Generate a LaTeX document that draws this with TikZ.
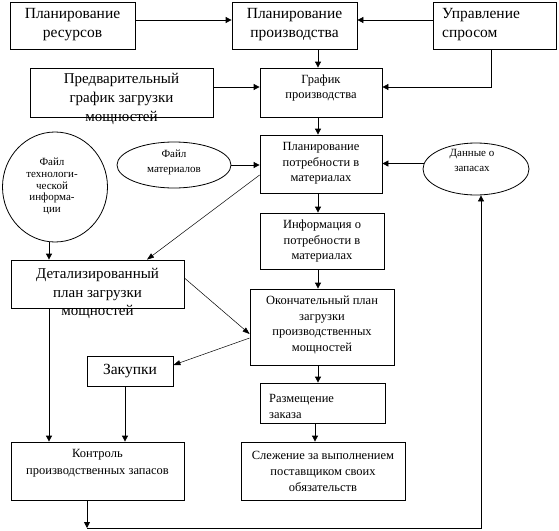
\documentclass[tikz,border=0pt]{standalone}
\usepackage{fontspec}
\setmainfont{Liberation Serif}
\usetikzlibrary{arrows.meta,shapes.geometric}
\tikzset{
  box/.style={draw,line width=0.8pt,inner sep=0pt},
  oval/.style={draw,ellipse,line width=0.8pt,inner sep=0pt},
  big/.style={inner sep=0pt,align=center,font=\fontsize{15.5}{19}\selectfont},
  big2/.style={inner sep=0pt,align=center,font=\fontsize{15}{18.7}\selectfont},
  mid/.style={inner sep=0pt,align=center,font=\fontsize{12.5}{15.5}\selectfont},
  sml/.style={inner sep=0pt,align=center,font=\fontsize{11}{15}\selectfont},
  tiny/.style={inner sep=0pt,align=center,font=\fontsize{11}{11.7}\selectfont},
  arr/.style={line width=0.8pt,-{Triangle[length=6pt,width=6pt]}},
  darr/.style={line width=0.5pt,-{Triangle[length=7pt,width=5pt]}},
}
\newcommand{\mybox}[5]{% name, left, top, right, bottom
  \node[box,minimum width={(#4)-(#2)},minimum height={(#5)-(#3)}] (#1) at ({((#2)+(#4))/2},{((#3)+(#5))/2}) {};}
\begin{document}
\begin{tikzpicture}[x=1pt,y=-1pt]
\useasboundingbox (0,0) rectangle (559,530);
% helper columns and rows
\coordinate (xM) at (318,0);
\coordinate (xS) at (315,0);
\coordinate (xA) at (49,0);
\coordinate (xB) at (87,0);
\coordinate (xZ) at (125,0);
\coordinate (xD) at (147,0);
\coordinate (xR) at (491,0);
\coordinate (xC) at (481,0);
\coordinate (yBot) at (0,528);
% boxes
\mybox{b1}{10}{2}{135}{49}
\mybox{b2}{232}{2}{357}{49}
\mybox{b3}{433}{2}{556}{49}
\mybox{b5}{30}{68}{213}{117}
\mybox{b4}{260}{68}{382}{117}
\mybox{b6}{260}{135}{382}{193}
\mybox{b8}{260}{213}{384}{269}
\mybox{b7}{11}{260}{184}{308}
\mybox{b9}{250}{289}{394}{365}
\mybox{zk}{87}{356}{173}{386}
\mybox{b10}{260}{383}{385}{423}
\mybox{kt}{11}{442}{184}{500}
\mybox{b11}{241}{442}{405}{500}
\node[oval,minimum width=114pt,minimum height=46pt] (fm) at (174,165) {};
\node[oval,minimum width=105pt,minimum height=110pt] (ft) at (55,187) {};
\node[oval,minimum width=106pt,minimum height=52pt] (dz) at (476,169) {};
% texts
\node[big] (t1) at (72.5,24.5) {Планирование\\ресурсов};
\node[big] (t2) at (294.5,24.5) {Планирование\\производства};
\node[big,align=left,anchor=west] (t3) at (442,24.5) {Управление\\спросом};
\node[big2] (t5) at (121.5,99) {Предварительный\\график загрузки\\мощностей};
\node[mid] (t4) at (321,88) {График\\производства};
\node[sml] (tfm) at (174,162.5) {Файл\\материалов};
\node[tiny] (tft) at (52,186.5) {Файл\\технологи-\\ческой\\информа-\\ции};
\node[mid] (t6) at (321,163.5) {Планирование\\потребности в\\материалах};
\node[sml] (tdz) at (472,160.5) {Данные о\\запасах};
\node[mid] (t8) at (322,241) {Информация о\\потребности в\\материалах};
\node[big2] (t7) at (97.5,293.5) {Детализированный\\план загрузки\\мощностей};
\node[big] (tzk) at (130,371) {Закупки};
\node[mid] (t9) at (322,325) {Окончательный план\\загрузки\\производственных\\мощностей};
\node[sml,align=left,anchor=west,font=\fontsize{12.5}{16}\selectfont] (t10) at (269,406) {Размещение\\заказа};
\node[mid,font=\fontsize{12.5}{17}\selectfont] (tkt) at (97.5,463.5) {Контроль\\производственных запасов};
\node[mid,font=\fontsize{12.5}{16}\selectfont] (t11) at (323,471) {Слежение за выполнением\\поставщиком своих\\обязательств};
% connectors
\draw[arr] ([yshift=5.5pt]b1.east) -- ([yshift=5.5pt]b2.west);
\draw[arr] ([yshift=5.5pt]b3.west) -- ([yshift=5.5pt]b2.east);
\draw[arr] (b2.south -| xM) -- (b4.north -| xM);
\draw[arr] (b3.south -| xR) |- ([yshift=5.5pt]b4.east);
\draw[arr] ([yshift=5.5pt]b5.east) -- ([yshift=5.5pt]b4.west);
\draw[arr] (b4.south -| xM) -- (b6.north -| xM);
\draw[arr] (fm.east) -- (fm.east -| b6.west);
\draw[arr] (dz.174) -- (dz.174 -| b6.east);
\draw[arr] (b6.south -| xM) -- (b8.north -| xM);
\draw[arr] (ft.south -| xA) -- (b7.north -| xA);
\draw[darr] ([yshift=-11pt]b6.west) -- (b7.north -| xD);
\draw[darr] ([yshift=6pt]b7.east) -- ([yshift=-7pt]b9.west);
\draw[darr] ([yshift=-11pt]b9.west) -- ([yshift=6pt]zk.east);
\draw[arr] (b8.south -| xM) -- (b9.north -| xM);
\draw[arr] (b9.south -| xM) -- (b10.north -| xM);
\draw[arr] (b10.south -| xS) -- (b11.north -| xS);
\draw[arr] (b7.south -| xA) -- (kt.north -| xA);
\draw[arr] (zk.south -| xZ) -- (kt.north -| xZ);
\draw[arr] (kt.south -| xB) -- (xB |- yBot);
\draw[arr] (xB |- yBot) -| (dz.south -| xC);
\end{tikzpicture}
\end{document}
